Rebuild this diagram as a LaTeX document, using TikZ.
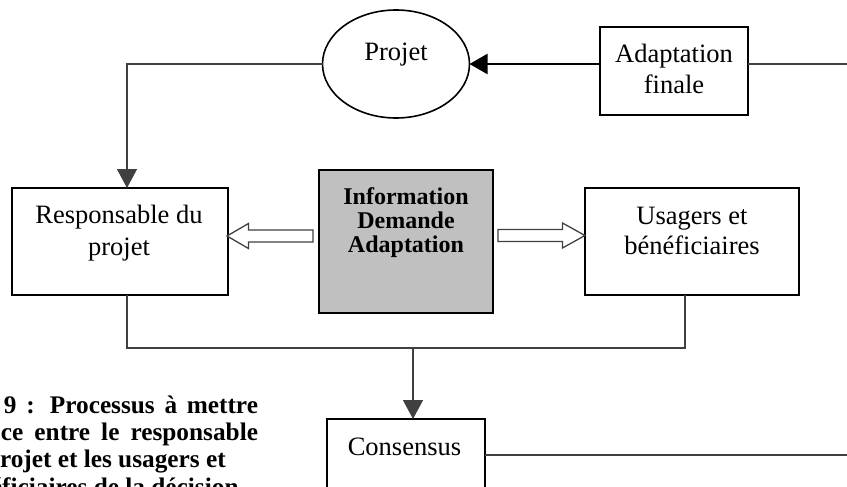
\documentclass[tikz,border=0pt]{standalone}
\usepackage{fontspec}
\setmainfont{Liberation Serif}
\usetikzlibrary{arrows.meta,calc,shapes.geometric}
\definecolor{linegray}{HTML}{404040}
\definecolor{boxgray}{HTML}{C0C0C0}
% stacked, centred lines whose baseline is the first line's baseline
\newcommand{\stacklines}[1]{\begin{tabular}[t]{@{}c@{}}#1\end{tabular}}

\begin{document}
\begin{tikzpicture}[x=1pt,y=-1pt,
  box/.style={draw=black,line width=1.8pt,inner sep=0pt,outer sep=0pt,anchor=north west},
  txt/.style={inner sep=0pt,outer sep=0pt,anchor=base},
  conn/.style={draw=linegray,line width=1.4pt},
  tipgray/.style={-{Triangle[length=19pt,width=20pt]},linegray},
  hollow/.style={draw=linegray,line width=1.3pt,fill=white,line join=miter},
  caption/.style={inner sep=0pt,outer sep=0pt,anchor=base west,
    font=\fontsize{25.3}{26.5}\selectfont\bfseries}
]
\useasboundingbox (0,0) rectangle (847,487);
\clip (0,0) rectangle (847,487);

% boxes
\node[ellipse,draw=black,line width=1.6pt,minimum width=147pt,minimum height=108pt,inner sep=0pt,outer sep=0pt] (projet) at (396,64) {};
\node[box,minimum width=148pt,minimum height=88pt] (adapt) at (600,27) {};
\node[box,minimum width=216pt,minimum height=107pt] (resp) at (12,188) {};
\node[box,minimum width=214pt,minimum height=107pt] (users) at (585,188) {};
\node[box,fill=boxgray,minimum width=174pt,minimum height=143pt] (info) at (319,170) {};
\node[box,minimum width=158pt,minimum height=120pt] (cons) at (327,419) {};

% box texts
\node[txt,font=\fontsize{26.5}{31}\selectfont] (projettxt) at (396,61) {Projet};
\node[txt,font=\fontsize{26.5}{30.5}\selectfont] (adapttxt) at (674,63) {\stacklines{Adaptation\\finale}};
\node[txt,font=\fontsize{26.5}{32}\selectfont] (resptxt) at (119,223) {\stacklines{Responsable du\\projet}};
\node[txt,font=\fontsize{26.5}{30}\selectfont] (userstxt) at (692,224) {\stacklines{Usagers et\\bénéficiaires}};
\node[txt,font=\fontsize{24}{24.5}\selectfont\bfseries] (infotxt) at (406,204) {\stacklines{Information\\Demande\\Adaptation}};
\node[txt,font=\fontsize{26.5}{31}\selectfont] (constxt) at (404.5,455) {Consensus};

% connectors
\draw[line width=2pt,-{Triangle[length=18pt,width=20pt]}] (adapt.west |- projet.center) -- (projet.east);
\coordinate (rightA) at (850,64);
\draw[conn] (adapt.east |- projet.center) -- (rightA);
\draw[conn,tipgray] (projet.west) -| ($(resp.north)+(7,0)$);
\draw[conn] ($(resp.south)+(7,0)$) -- ++(0,53) -| ($(users.south)+(-7,0)$);
\coordinate (junc) at (413,348);
\draw[conn,tipgray] (junc) -- (junc |- cons.north);
\coordinate (rightC) at (850,455);
\draw[conn] (cons.east |- constxt.base) -- (rightC);

% hollow block arrows out of the central box
\coordinate (ltip) at ($(resp.east)+(-1,-5.5)$);
\draw[hollow] (ltip) -- ++(21.5,-12.5) -- ++(0,6.5) -- ++(64.5,0) -- ++(0,12)
  -- ++(-64.5,0) -- ++(0,6.5) -- cycle;
\coordinate (rtip) at ($(users.west)+(0,-6)$);
\draw[hollow] (rtip) -- ++(-22.5,-12.5) -- ++(0,6.5) -- ++(-64.5,0) -- ++(0,12)
  -- ++(64.5,0) -- ++(0,6.5) -- cycle;

% caption
\node[caption] (cap1) at (4,413) {\makebox[254pt][s]{9 : Processus à mettre}};
\node[caption] (cap2) at (1,440) {\makebox[257pt][s]{ce entre le responsable}};
\node[caption] (cap3) at (0,467) {rojet et les usagers et};
\node[caption] (cap4) at (-9,495) {éficiaires de la décision};
\end{tikzpicture}
\end{document}
